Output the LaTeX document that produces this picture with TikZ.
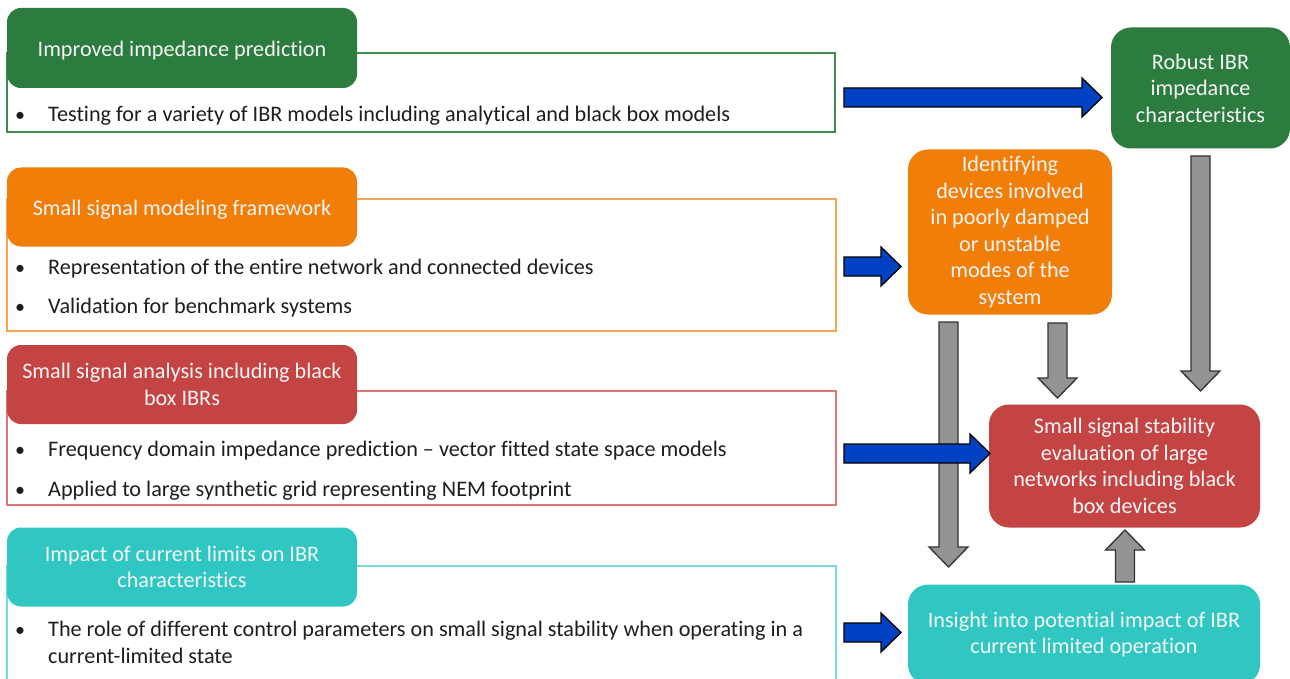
\documentclass[tikz,border=0pt]{standalone}
\usepackage{fontspec}
\setmainfont{Carlito}[Ligatures=NoCommon]
\usetikzlibrary{calc}

\definecolor{cgreen}{HTML}{2C7C3F}
\definecolor{corange}{HTML}{F07E08}
\definecolor{cred}{HTML}{C44444}
\definecolor{ccyan}{HTML}{30C7C3}
\definecolor{lgreen}{HTML}{3E8B50}
\definecolor{lorange}{HTML}{F6A352}
\definecolor{lred}{HTML}{DC7878}
\definecolor{lcyan}{HTML}{78D9D6}
\definecolor{cblue}{HTML}{0042C3}
\definecolor{cgray}{HTML}{939393}
\definecolor{ctext}{HTML}{1E1E1E}
\definecolor{ctitle}{HTML}{F4F4F4}

\newcommand\txtfont{\fontsize{22.2pt}{26.6pt}\selectfont}
% single-line title, set slightly low without changing its box
\newcommand\lowtitle[1]{\raisebox{-3pt}[\height][\depth]{#1}}

% block arrow from #2 to #3, drawn with style #1
\newcommand\blockarrow[3]{%
  \coordinate (#2-base) at ($(#3)!20pt!(#2)$);
  \draw[#1] ($(#2)!9.5pt!90:(#3)$) -- ($(#2-base)!9.5pt!-90:(#2)$)
    -- ($(#2-base)!19.5pt!-90:(#2)$) -- (#3)
    -- ($(#2-base)!19.5pt!90:(#2)$) -- ($(#2-base)!9.5pt!90:(#2)$)
    -- ($(#2)!9.5pt!-90:(#3)$) -- cycle;
}

\tikzset{
  header/.style={rounded corners=14pt, fill=#1, text=ctitle, minimum width=350pt,
    minimum height=80pt, align=center, font=\txtfont, inner sep=0pt},
  bodybox/.style={draw=#1, line width=1.4pt, inner sep=0pt},
  btext/.style={anchor=base west, inner sep=0pt, text=ctext, font=\txtfont},
  bullet/.style={anchor=base, inner sep=0pt, text=ctext, font=\fontsize{20pt}{24pt}\selectfont},
  rbox/.style={rounded corners=20pt, fill=#1, text=ctitle, align=center,
    font=\txtfont, inner sep=0pt},
  bluearrow/.style={fill=cblue, draw=black, line width=1.3pt, line join=miter},
  grayarrow/.style={fill=cgray, draw=black!80, line width=1.3pt, line join=miter},
}

\begin{document}
\begin{tikzpicture}[x=1pt,y=-1pt]
\useasboundingbox[fill=white] (0,0) rectangle (1290,679);

% outlined bodies of the four topic panels
\node (body1) [bodybox=lgreen, minimum width=828pt, minimum height=79pt] at (421,92.5) {};
\node (body2) [bodybox=lorange, minimum width=829pt, minimum height=132pt] at (421.5,265) {};
\node (body3) [bodybox=lred, minimum width=829pt, minimum height=114pt] at (421.5,448) {};
\node (body4) [bodybox=lcyan, minimum width=829pt, minimum height=134pt] at (421.5,633) {};

% panel titles
\node (head1) [header=cgreen, minimum height=80pt] at (182,48) {\lowtitle{Improved impedance prediction}};
\node (head2) [header=corange, minimum height=79pt] at (182,207) {\lowtitle{Small signal modeling framework}};
\node (head3) [header=cred, minimum height=79pt] at (182,384.5) {Small signal analysis including black\\box IBRs};
\node (head4) [header=ccyan, minimum height=79pt] at (182,567) {Impact of current limits on IBR\\characteristics};

% bullet points
\node (d1a) [bullet] at (20,122) {•};
\node (t1a) [btext] at (48,122) {Testing for a variety of IBR models including analytical and black box models};
\node (d2a) [bullet] at (20,274) {•};
\node (t2a) [btext] at (48,274) {Representation of the entire network and connected devices};
\node (d2b) [bullet] at (20,313.5) {•};
\node (t2b) [btext] at (48,313.5) {Validation for benchmark systems};
\node (d3a) [bullet] at (20,456) {•};
\node (t3a) [btext] at (48,456) {Frequency domain impedance prediction -- vector fitted state space models};
\node (d3b) [bullet] at (20,496) {•};
\node (t3b) [btext] at (48,496) {Applied to large synthetic grid representing NEM footprint};
\node (d4a) [bullet] at (20,636) {•};
\node (t4a) [btext] at (48,636) {The role of different control parameters on small signal stability when operating in a};
\node (t4b) [btext] at (48,663) {current-limited state};

% outcome boxes
\node (robust) [rbox=cgreen, minimum width=179pt, minimum height=121pt] at (1200.5,88)
  {Robust IBR\\impedance\\characteristics};
\node (ident) [rbox=corange, minimum width=204pt, minimum height=165pt] at (1010,232)
  {Identifying\\devices involved\\in poorly damped\\or unstable\\modes of the\\system};
\node (stab) [rbox=cred, minimum width=271pt, minimum height=123pt] at (1124.5,466)
  {Small signal stability\\evaluation of large\\networks including black\\box devices};
\node (insight) [rbox=ccyan, minimum width=352pt, minimum height=100pt] at (1084,634.5)
  {Insight into potential impact of IBR\\current limited operation};

% arrow end points
\coordinate (gAs) at (948.5,322);  \coordinate (gAt) at (948.5,567);
\coordinate (gBs) at (1057.5,323); \coordinate (gBt) at (1057.5,398);
\coordinate (gCs) at (1200.5,156); \coordinate (gCt) at (1200.5,391);
\coordinate (gDs) at (1125,582);   \coordinate (gDt) at (1125,530);
\coordinate (b1s) at (844,97.5);   \coordinate (b1t) at (1102,97.5);
\coordinate (b2s) at (844,266.5);  \coordinate (b2t) at (901,266.5);
\coordinate (b3s) at (844,453.5);  \coordinate (b3t) at (990,453.5);
\coordinate (b4s) at (844,632.5);  \coordinate (b4t) at (901,632.5);

% grey flow arrows between outcomes
\blockarrow{grayarrow}{gAs}{gAt}
\blockarrow{grayarrow}{gBs}{gBt}
\blockarrow{grayarrow}{gCs}{gCt}
\blockarrow{grayarrow}{gDs}{gDt}

% blue arrows from panels to outcomes
\blockarrow{bluearrow}{b1s}{b1t}
\blockarrow{bluearrow}{b2s}{b2t}
\blockarrow{bluearrow}{b3s}{b3t}
\blockarrow{bluearrow}{b4s}{b4t}
\end{tikzpicture}
\end{document}
